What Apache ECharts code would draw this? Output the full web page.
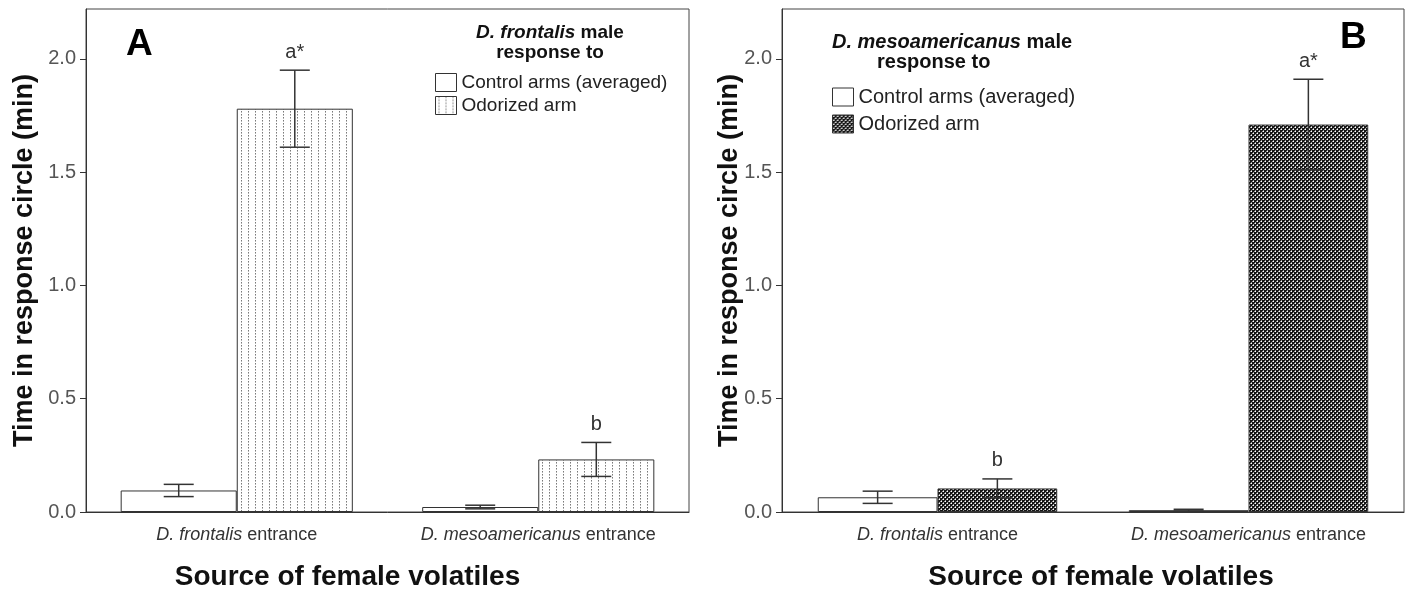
<!DOCTYPE html>
<html>
<head>
<meta charset="utf-8">
<script src="https://cdn.jsdelivr.net/npm/echarts@6/dist/echarts.min.js"></script>
<style>
  html, body { margin: 0; padding: 0; background: #fff; }
  #wrap { position: relative; width: 1416px; height: 597px; }
  #chartA { position: absolute; left: 0; top: 0; width: 708px; height: 597px; }
  #chartB { position: absolute; left: 708px; top: 0; width: 708px; height: 597px; }
</style>
</head>
<body>
<div id="wrap"><div id="chartA"></div><div id="chartB"></div></div>
<script>
// Categories (entrance species) and legend entries
const categories = ['D. frontalis', 'D. mesoamericanus'];
const seriesNames = ['Control arms (averaged)', 'Odorized arm'];
const yTicks = [0, 0.5, 1.0, 1.5, 2.0];

// Panel A: D. frontalis male response (mean and SE, min)
const controlA = [0.095, 0.022];
const controlErrA = [0.027, 0.008];
const odorA = [1.78, 0.232];
const odorErrA = [0.17, 0.075];
const lettersA = ['a*', 'b'];

// Panel B: D. mesoamericanus male response (mean and SE, min)
const controlB = [0.065, 0.008];
const controlErrB = [0.027, 0.004];
const odorB = [0.104, 1.71];
const odorErrB = [0.042, 0.2];
const lettersB = ['b', 'a*'];

const FONT = '"Liberation Sans", Arial, Helvetica, sans-serif';
const CAT_GAP = 0.23;                 // share of each category band left empty
const BAR_SHIFT = (1 - CAT_GAP) / 4;  // bar centre offset from band centre, in bands

// Fill patterns for the odorized bars
function dottedPattern() {
  const c = document.createElement('canvas');
  c.width = 7; c.height = 3;
  const g = c.getContext('2d');
  g.fillStyle = '#ffffff'; g.fillRect(0, 0, 7, 3);
  g.fillStyle = '#7a7a7a'; g.fillRect(3, 0, 1, 1);
  g.fillStyle = '#b4b4b4'; g.fillRect(3, 1, 1, 1);
  return c;
}
function crossPattern() {
  const c = document.createElement('canvas');
  c.width = 4; c.height = 4;
  const g = c.getContext('2d');
  g.fillStyle = '#161616'; g.fillRect(0, 0, 4, 4);
  g.fillStyle = '#ffffff';
  g.fillRect(1, 1, 1, 1); g.fillRect(3, 3, 1, 1);
  g.fillStyle = '#9a9a9a';
  g.fillRect(0, 1, 1, 1); g.fillRect(1, 0, 1, 1);
  g.fillRect(2, 3, 1, 1); g.fillRect(3, 2, 1, 1);
  return c;
}

// Error bar (mean ± SE) with optional letter above; side = -1 left bar, +1 right bar
function errorBars(means, errs, letters, side) {
  return {
    type: 'custom',
    z: 10,
    silent: true,
    data: means.map((m, i) => [i, m, errs[i]]),
    encode: { x: 0, y: 1 },
    renderItem: function (params, api) {
      const ci = api.value(0), mean = api.value(1), err = api.value(2);
      const band = api.size([1, 0])[0];
      const x = api.coord([ci, 0])[0] + side * band * BAR_SHIFT;
      const yHi = api.coord([ci, mean + err])[1];
      const yLo = api.coord([ci, Math.max(mean - err, 0)])[1];
      const cap = 15;
      const ls = { stroke: '#333', lineWidth: 1.5 };
      const children = [
        { type: 'line', shape: { x1: x, y1: yHi, x2: x, y2: yLo }, style: ls },
        { type: 'line', shape: { x1: x - cap, y1: yHi, x2: x + cap, y2: yHi }, style: ls },
        { type: 'line', shape: { x1: x - cap, y1: yLo, x2: x + cap, y2: yLo }, style: ls }
      ];
      if (letters) {
        children.push({
          type: 'text',
          style: {
            text: letters[params.dataIndex], x: x, y: yHi - 8,
            align: 'center', verticalAlign: 'bottom',
            fontSize: 20, fill: '#333', fontFamily: FONT
          }
        });
      }
      return { type: 'group', children: children };
    }
  };
}

function buildOption(cfg) {
  const oddFill = { image: cfg.pattern, repeat: 'repeat' };
  const gapPct = Math.round(CAT_GAP * 100) + '%';
  return {
    animation: false,
    grid: {
      left: cfg.left, right: cfg.right, top: 9, bottom: 85,
      containLabel: false, outerBoundsMode: 'none',
      show: true, borderColor: '#444', borderWidth: 1
    },
    xAxis: {
      type: 'category',
      data: categories,
      axisLine: { lineStyle: { color: '#333', width: 1 } },
      axisTick: { show: false },
      axisLabel: {
        margin: 14,
        formatter: v => '{i|' + v + '}{n| entrance}',
        rich: {
          i: { fontStyle: 'italic', fontSize: 18, color: '#333', fontFamily: FONT },
          n: { fontSize: 18, color: '#333', fontFamily: FONT }
        }
      },
      name: 'Source of female volatiles',
      nameLocation: 'middle',
      nameGap: 51,
      nameMoveOverlap: false,
      nameTextStyle: {
        fontSize: 28, fontWeight: 'bold', color: '#111', fontFamily: FONT,
        padding: cfg.xNamePad
      }
    },
    yAxis: {
      type: 'value',
      min: 0, max: 2.22,
      axisLine: { show: true, lineStyle: { color: '#333', width: 1 } },
      axisTick: { show: true, length: 6, customValues: yTicks, lineStyle: { color: '#333' } },
      axisLabel: {
        customValues: yTicks,
        formatter: v => v.toFixed(1),
        fontSize: 20, color: '#555', margin: 10, fontFamily: FONT
      },
      splitLine: { show: false },
      name: 'Time in response circle (min)',
      nameLocation: 'middle',
      nameRotate: 90,
      nameGap: cfg.yNameGap,
      nameMoveOverlap: false,
      nameTextStyle: { fontSize: 27, fontWeight: 'bold', color: '#111', fontFamily: FONT }
    },
    legend: {
      orient: 'vertical',
      left: cfg.legLeft, top: cfg.legTop,
      padding: 0,
      itemWidth: 21, itemHeight: 18, itemGap: cfg.legGap,
      icon: 'rect',
      data: seriesNames,
      itemStyle: { borderColor: '#333', borderWidth: 1 },
      textStyle: { fontSize: cfg.legFont, color: '#222', fontFamily: FONT }
    },
    graphic: [
      {
        type: 'text', left: cfg.letterX, top: cfg.letterY,
        style: { text: cfg.letter, fontSize: 37, fontWeight: 'bold', fill: '#000', fontFamily: FONT }
      },
      {
        type: 'text', x: cfg.t1x, y: cfg.t1y,
        style: {
          text: '{bi|' + cfg.species + '}{b| male}',
          align: cfg.tAlign, verticalAlign: 'middle',
          rich: {
            bi: { fontSize: cfg.legFont, fontWeight: 'bold', fontStyle: 'italic', fill: '#111', fontFamily: FONT },
            b: { fontSize: cfg.legFont, fontWeight: 'bold', fill: '#111', fontFamily: FONT }
          }
        }
      },
      {
        type: 'text', x: cfg.t2x, y: cfg.t2y,
        style: {
          text: 'response to', align: cfg.tAlign, verticalAlign: 'middle',
          fontSize: cfg.legFont, fontWeight: 'bold', fill: '#111', fontFamily: FONT
        }
      }
    ],
    series: [
      {
        name: seriesNames[0], type: 'bar', data: cfg.control,
        barGap: '0%', barCategoryGap: gapPct,
        itemStyle: { color: '#ffffff', borderColor: '#333', borderWidth: 1 }
      },
      {
        name: seriesNames[1], type: 'bar', data: cfg.odor,
        barGap: '0%', barCategoryGap: gapPct,
        itemStyle: { color: oddFill, borderColor: '#333', borderWidth: 1 }
      },
      errorBars(cfg.control, cfg.controlErr, null, -1),
      errorBars(cfg.odor, cfg.odorErr, cfg.letters, 1)
    ]
  };
}

const chartA = echarts.init(document.getElementById('chartA'));
chartA.setOption(buildOption({
  left: 86, right: 19, yNameGap: 48, xNamePad: [0, 80, 0, 0],
  legLeft: 435, legTop: 73, legGap: 4, legFont: 19,
  letter: 'A', letterX: 126, letterY: 26,
  species: 'D. frontalis', tAlign: 'center', t1x: 550, t1y: 33, t2x: 550, t2y: 53,
  pattern: dottedPattern(),
  control: controlA, controlErr: controlErrA, odor: odorA, odorErr: odorErrA, letters: lettersA
}));

const chartB = echarts.init(document.getElementById('chartB'));
chartB.setOption(buildOption({
  left: 74, right: 12, yNameGap: 39, xNamePad: [0, 0, 0, 16],
  legLeft: 124, legTop: 87, legGap: 7, legFont: 20,
  letter: 'B', letterX: 632, letterY: 19,
  species: 'D. mesoamericanus', tAlign: 'left', t1x: 124, t1y: 42, t2x: 169, t2y: 62,
  pattern: crossPattern(),
  control: controlB, controlErr: controlErrB, odor: odorB, odorErr: odorErrB, letters: lettersB
}));
</script>
</body>
</html>
